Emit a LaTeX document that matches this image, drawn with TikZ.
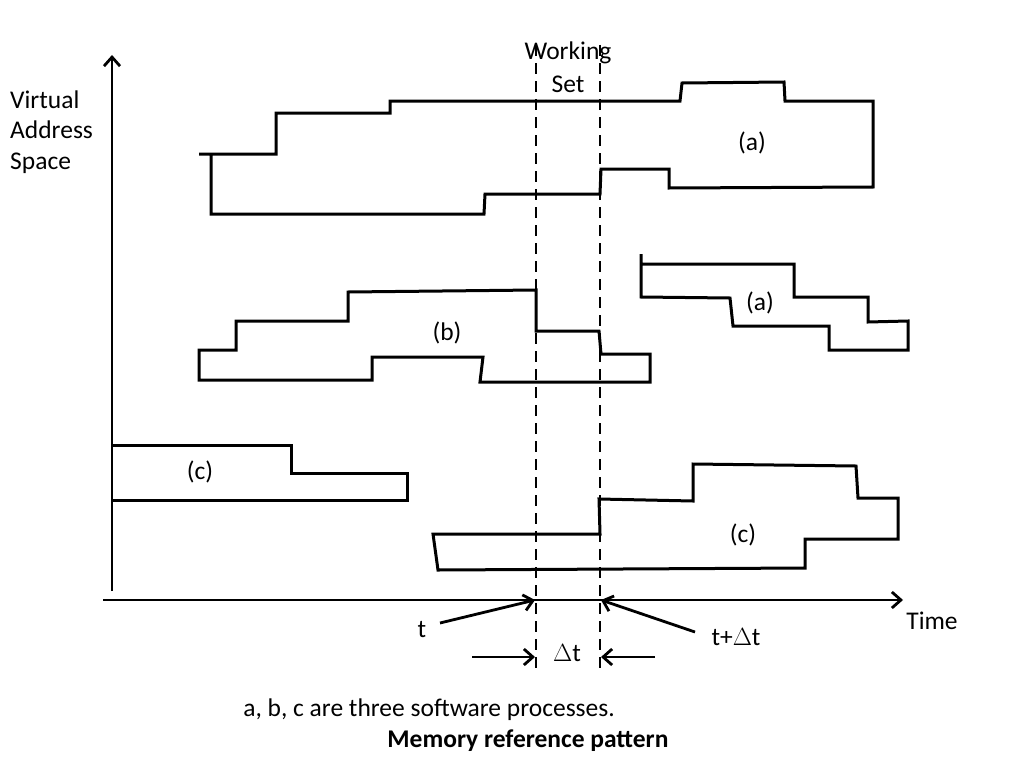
\documentclass[tikz,border=0pt]{standalone}
\usepackage{fontspec}
\setmainfont{Carlito}
\usetikzlibrary{arrows.meta}
\begin{document}
\begin{tikzpicture}[x=1pt,y=-1pt,
  shape line/.style={line width=3pt, line join=miter},
  ws/.style={line width=2.8pt, dash pattern=on 11pt off 7pt},
  arr/.style={line width=2.8pt, -{Straight Barb[length=9pt,width=16pt]}},
  lbl/.style={font=\fontsize{25.5}{30.5}\selectfont, inner sep=0pt}]
\useasboundingbox (0,0) rectangle (1024,768);
% axes
\coordinate (yb) at (112,591); \coordinate (yt) at (112,55);
\coordinate (xl) at (103,600); \coordinate (xr) at (903,600);
\draw[arr] (yb) -- (yt);
\draw[arr] (xl) -- (xr);
% working set dashed lines
\coordinate (w1t) at (536,45); \coordinate (w1b) at (536,672);
\coordinate (w2t) at (600,45); \coordinate (w2b) at (600,672);
\draw[ws] (w1t) -- (w1b);
\draw[ws] (w2t) -- (w2b);
% process a (top)
\draw[shape line] (199,154) -- (276,154) -- (276,113) -- (390,113) -- (390,101) -- (680,101)
  -- (682,83) -- (784,82) -- (785,101) -- (873,101) -- (873,187) -- (669,188) -- (669,169)
  -- (601,169) -- (600,194) -- (485,194) -- (484,214) -- (211,214) -- (211,154);
% process b
\draw[shape line] (199,380) -- (199,350) -- (236,350) -- (236,321) -- (348,321) -- (348,292)
  -- (536,290) -- (536,331) -- (599,331) -- (601,354) -- (650,354) -- (650,382) -- (480,382)
  -- (483,357) -- (372,357) -- (372,380) -- cycle;
% process a (middle)
\draw[shape line] (641,254) -- (641,297) -- (730,298) -- (733,326) -- (829,326) -- (829,350)
  -- (908,350) -- (908,321) -- (868,322) -- (868,297) -- (794,297) -- (794,264) -- (641,264);
% process c (left)
\draw[shape line] (112,445) -- (291,445) -- (291,473) -- (407,473) -- (407,500) -- (112,500);
% process c (right)
\draw[shape line] (433,534) -- (438,570) -- (805,568) -- (805,539) -- (898,539) -- (898,498)
  -- (858,498) -- (856,466) -- (693,464) -- (693,501) -- (599,499) -- (600,534) -- cycle;
% labels
\node[lbl] (wsl) at (568,53) {Working};
\node[lbl] (setl) at (568,84) {Set};
\node[lbl, align=left, anchor=west] (vas) at (10,132) {Virtual\\Address\\Space};
\node[lbl] (la1) at (752,143) {(a)};
\node[lbl] (lb) at (447,333) {(b)};
\node[lbl] (la2) at (760,303) {(a)};
\node[lbl] (lc1) at (200,472) {(c)};
\node[lbl] (lc2) at (743,535) {(c)};
\node[lbl] (time) at (932,621) {Time};
\node[lbl] (tl) at (422,630) {t};
\node[lbl] (tdl) at (736,637) {t+$\Delta$t};
\node[lbl] (dtl) at (567,653) {$\Delta$t};
\node[lbl] (note) at (429,710) {a, b, c are three software processes.};
\node[lbl, font=\fontsize{25.5}{30.5}\selectfont\bfseries] (title) at (528,741) {Memory reference pattern};
% t arrows
\coordinate (ts) at (440,623); \coordinate (te) at (535,600);
\coordinate (tds) at (695,632); \coordinate (tde) at (601,600);
\draw[arr] (ts) -- (te);
\draw[arr] (tds) -- (tde);
\coordinate (d1s) at (472,657); \coordinate (d1e) at (535,657);
\coordinate (d2s) at (655,657); \coordinate (d2e) at (601,657);
\draw[arr] (d1s) -- (d1e);
\draw[arr] (d2s) -- (d2e);
\end{tikzpicture}
\end{document}
